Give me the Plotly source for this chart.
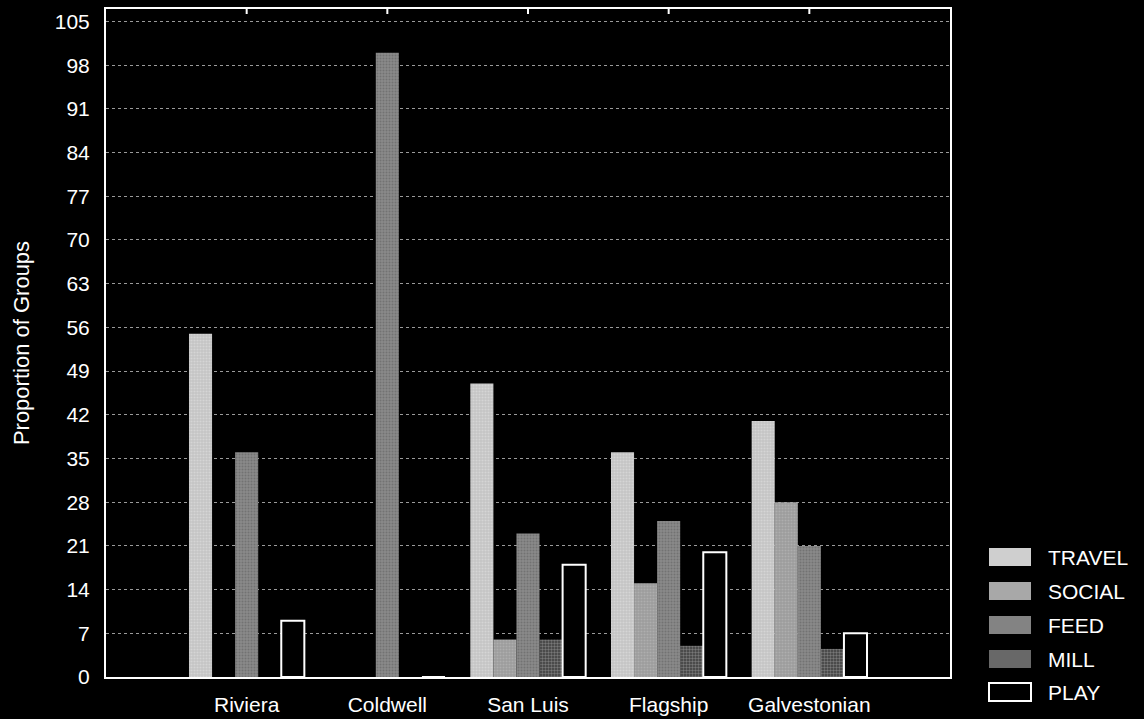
import plotly.graph_objects as go

categories = ["Riviera", "Coldwell", "San Luis", "Flagship", "Galvestonian"]
travel = [55, 0, 47, 36, 41]
social = [0, 0, 6, 15, 28]
feed = [36, 100, 23, 25, 21]
mill = [0, 0, 6, 5, 4.5]
play = [9, 0, 18, 20, 7]
series_names = ["TRAVEL", "SOCIAL", "FEED", "MILL", "PLAY"]
series_values = [travel, social, feed, mill, play]
y_ticks = list(range(0, 106, 7))

FONT = "Liberation Sans, Arial, sans-serif"
styles = {
    "TRAVEL": dict(bg="#c4c4c4", fg="#e6e6e6", shape=".", size=3, sol=0.4, line=0, lc="black", avg="#cfcfcf"),
    "SOCIAL": dict(bg="#9c9c9c", fg="#c0c0c0", shape=".", size=3, sol=0.4, line=0, lc="black", avg="#a8a8a8"),
    "FEED": dict(bg="#8a8a8a", fg="#5a5a5a", shape=".", size=3, sol=0.4, line=0, lc="black", avg="#838383"),
    "MILL": dict(bg="#3c3c3c", fg="#b4b4b4", shape=".", size=3, sol=0.5, line=0, lc="black", avg="#686868"),
    "PLAY": dict(bg="black", fg="black", shape="", size=3, sol=0.3, line=2, lc="white", avg="black"),
}

fig = go.Figure()
for name, vals in zip(series_names, series_values):
    s = styles[name]
    fig.add_trace(go.Bar(
        x=categories, y=vals, name=name, showlegend=False,
        marker=dict(color=s["bg"],
                    line=dict(width=s["line"], color=s["lc"]),
                    pattern=dict(shape=s["shape"], bgcolor=s["bg"], fgcolor=s["fg"],
                                 size=s["size"], solidity=s["sol"])),
    ))

FW, FH = 1144, 719
L, R, T, B = 106, 950, 9, 677
W, H = R - L, B - T

# inward ticks on the top frame at each category
for c in categories:
    fig.add_shape(type="line", xref="x", yref="paper", x0=c, x1=c,
                  y0=1, y1=1 - 5 / H, line=dict(color="white", width=2))

# manual legend (screen coords -> paper)
def px(x): return (x - L) / W
def py(y): return (B - y) / H
row_centers = [557, 591, 625, 659, 692]
for name, yc in zip(series_names, row_centers):
    s = styles[name]
    fig.add_shape(type="rect", xref="paper", yref="paper",
                  x0=px(989), x1=px(1031), y0=py(yc + 9), y1=py(yc - 9),
                  fillcolor=s["avg"],
                  line=dict(width=2 if name == "PLAY" else 0, color="white"))
    fig.add_annotation(xref="paper", yref="paper", x=px(1046), y=py(yc),
                       text=name, showarrow=False, xanchor="left", yanchor="middle",
                       font=dict(family=FONT, size=21, color="white"))

fig.update_layout(
    width=FW, height=FH,
    margin=dict(l=L, r=FW - R, t=T, b=FH - B, autoexpand=False),
    paper_bgcolor="black", plot_bgcolor="black",
    barmode="group", bargap=0.18, bargroupgap=0,
    font=dict(family=FONT, size=21, color="white"),
    xaxis=dict(type="category", range=[-1, 5], showgrid=False, ticks="",
               showline=True, linecolor="white", linewidth=2, mirror=True,
               automargin=False,
               tickfont=dict(size=21, color="white"), ticklabelstandoff=8),
    yaxis=dict(range=[0, 107], tickvals=y_ticks, showgrid=True, gridcolor="#9a9a9a",
               griddash="dot", gridwidth=1, ticks="", zeroline=False,
               showline=True, linecolor="white", linewidth=2, mirror=True,
               automargin=False,
               tickfont=dict(size=21, color="white"), ticklabelstandoff=10,
               title=dict(text="Proportion of Groups", font=dict(size=22, color="white"),
                          standoff=19)),
)

fig.write_html("out.html", config={"displayModeBar": False},
               post_script="document.body.style.margin='0';document.body.style.background='black';")
